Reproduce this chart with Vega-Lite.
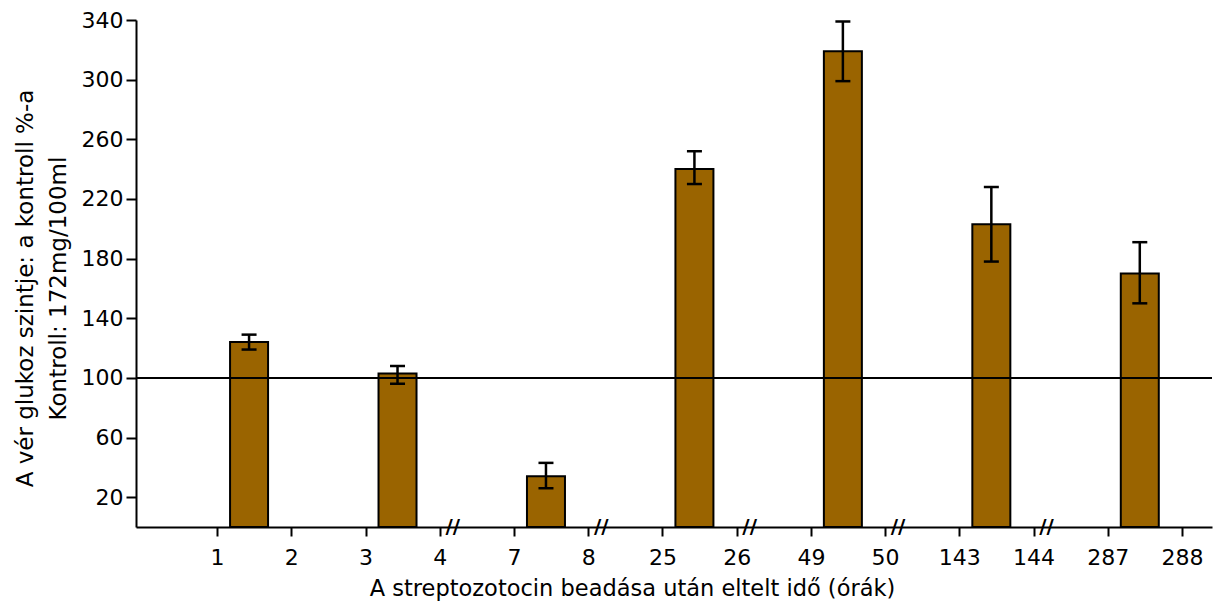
{
  "$schema": "https://vega.github.io/schema/vega-lite/v6.json",
  "width": 1076,
  "height": 507,
  "autosize": {"type": "none"},
  "padding": {"left": 136, "top": 20, "right": 6, "bottom": 75},
  "background": "white",
  "config": {
    "view": {"stroke": null},
    "font": "DejaVu Sans",
    "axis": {
      "grid": false,
      "labelFontSize": 22,
      "labelColor": "black",
      "tickColor": "black",
      "tickWidth": 2,
      "domainColor": "black",
      "domainWidth": 2,
      "titleFontWeight": "normal",
      "titleColor": "black"
    }
  },
  "datasets": {
    "glucose": [
      {"start": 1, "end": 2, "mean": 124, "lo": 119, "hi": 129},
      {"start": 3, "end": 4, "mean": 103, "lo": 96, "hi": 108},
      {"start": 7, "end": 8, "mean": 34, "lo": 26, "hi": 43},
      {"start": 25, "end": 26, "mean": 240, "lo": 230, "hi": 252},
      {"start": 49, "end": 50, "mean": 319, "lo": 299, "hi": 339},
      {"start": 143, "end": 144, "mean": 203, "lo": 178, "hi": 228},
      {"start": 287, "end": 288, "mean": 170, "lo": 150, "hi": 191}
    ],
    "axisBreaks": [
      {"start": 4}, {"start": 8}, {"start": 26}, {"start": 50}, {"start": 144}
    ],
    "control": [
      {"level": 100}
    ]
  },
  "layer": [
    {
      "data": {"name": "glucose"},
      "mark": {"type": "bar", "width": 38, "xOffset": 32, "color": "#9a6400", "stroke": "black", "strokeWidth": 2},
      "encoding": {
        "x": {
          "field": "start",
          "type": "ordinal",
          "title": "A streptozotocin beadása után eltelt idő (órák)",
          "scale": {"type": "point", "domain": [1, 2, 3, 4, 7, 8, 25, 26, 49, 50, 143, 144, 287, 288], "padding": 0.748, "align": 0.73},
          "axis": {
            "values": [1, 2, 3, 4, 7, 8, 25, 26, 49, 50, 143, 144, 287, 288],
            "labelAngle": 0,
            "labelPadding": 11,
            "tickSize": 9,
            "titleFontSize": 22.5,
            "titleAlign": "center",
            "titleBaseline": "alphabetic",
            "titleX": 496,
            "titleY": 68
          }
        },
        "y": {
          "field": "mean",
          "type": "quantitative",
          "title": ["A vér glukoz szintje: a kontroll %-a", "Kontroll: 172mg/100ml"],
          "scale": {"domain": [0, 340], "nice": false},
          "axis": {
            "values": [20, 60, 100, 140, 180, 220, 260, 300, 340],
            "labelPadding": 3,
            "tickSize": 10,
            "titleFontSize": 23,
            "titleAngle": -90,
            "titleAlign": "center",
            "titleBaseline": "alphabetic",
            "titleLineHeight": 33,
            "titleX": -104,
            "titleY": 268
          }
        }
      }
    },
    {
      "data": {"name": "control"},
      "mark": {"type": "rule", "color": "black", "strokeWidth": 2},
      "encoding": {
        "y": {"field": "level", "type": "quantitative", "title": ["A vér glukoz szintje: a kontroll %-a", "Kontroll: 172mg/100ml"], "scale": {"domain": [0, 340], "nice": false}}
      }
    },
    {
      "data": {"name": "glucose"},
      "mark": {"type": "rule", "xOffset": 32, "color": "black", "strokeWidth": 2.5},
      "encoding": {
        "x": {"field": "start", "type": "ordinal", "title": "A streptozotocin beadása után eltelt idő (órák)", "scale": {"type": "point", "domain": [1, 2, 3, 4, 7, 8, 25, 26, 49, 50, 143, 144, 287, 288], "padding": 0.748, "align": 0.73}},
        "y": {"field": "lo", "type": "quantitative", "title": ["A vér glukoz szintje: a kontroll %-a", "Kontroll: 172mg/100ml"], "scale": {"domain": [0, 340], "nice": false}},
        "y2": {"field": "hi"}
      }
    },
    {
      "data": {"name": "glucose"},
      "mark": {"type": "tick", "orient": "horizontal", "xOffset": 32, "size": 15, "thickness": 2.5, "color": "black", "opacity": 1},
      "encoding": {
        "x": {"field": "start", "type": "ordinal", "title": "A streptozotocin beadása után eltelt idő (órák)", "scale": {"type": "point", "domain": [1, 2, 3, 4, 7, 8, 25, 26, 49, 50, 143, 144, 287, 288], "padding": 0.748, "align": 0.73}},
        "y": {"field": "lo", "type": "quantitative", "title": ["A vér glukoz szintje: a kontroll %-a", "Kontroll: 172mg/100ml"], "scale": {"domain": [0, 340], "nice": false}}
      }
    },
    {
      "data": {"name": "glucose"},
      "mark": {"type": "tick", "orient": "horizontal", "xOffset": 32, "size": 15, "thickness": 2.5, "color": "black", "opacity": 1},
      "encoding": {
        "x": {"field": "start", "type": "ordinal", "title": "A streptozotocin beadása után eltelt idő (órák)", "scale": {"type": "point", "domain": [1, 2, 3, 4, 7, 8, 25, 26, 49, 50, 143, 144, 287, 288], "padding": 0.748, "align": 0.73}},
        "y": {"field": "hi", "type": "quantitative", "title": ["A vér glukoz szintje: a kontroll %-a", "Kontroll: 172mg/100ml"], "scale": {"domain": [0, 340], "nice": false}}
      }
    },
    {
      "data": {"name": "axisBreaks"},
      "mark": {"type": "text", "text": "//", "xOffset": 13, "font": "DejaVu Sans", "fontSize": 20, "fontWeight": "bold", "align": "center", "baseline": "middle", "color": "black"},
      "encoding": {
        "x": {"field": "start", "type": "ordinal", "title": "A streptozotocin beadása után eltelt idő (órák)", "scale": {"type": "point", "domain": [1, 2, 3, 4, 7, 8, 25, 26, 49, 50, 143, 144, 287, 288], "padding": 0.748, "align": 0.73}},
        "y": {"datum": 0, "type": "quantitative", "title": ["A vér glukoz szintje: a kontroll %-a", "Kontroll: 172mg/100ml"], "scale": {"domain": [0, 340], "nice": false}}
      }
    }
  ]
}
